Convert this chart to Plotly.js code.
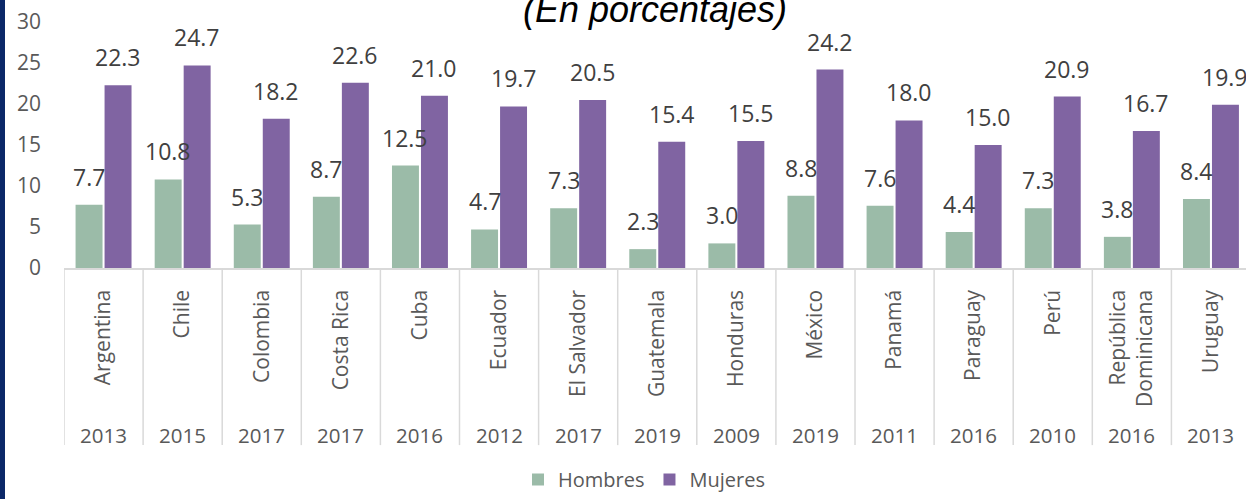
<!DOCTYPE html>
<html>
<head>
<meta charset="utf-8">
<script src="https://cdn.plot.ly/plotly-3.0.1.min.js"></script>
<style>
  html, body { margin: 0; padding: 0; background: #ffffff; }
  #chart { width: 1246px; height: 499px; }
  #strip { position: absolute; left: 0; top: 0; width: 5px; height: 499px; background: #0b2868; z-index: 10; }
</style>
</head>
<body>
<div id="strip"></div>
<div id="chart"></div>
<script>
const countries = ["Argentina", "Chile", "Colombia", "Costa Rica", "Cuba", "Ecuador", "El Salvador",
  "Guatemala", "Honduras", "México", "Panamá", "Paraguay", "Perú", "República<br>Dominicana", "Uruguay"];
const years = ["2013", "2015", "2017", "2017", "2016", "2012", "2017", "2019", "2009", "2019", "2011", "2016", "2010", "2016", "2013"];
const hombres = [7.7, 10.8, 5.3, 8.7, 12.5, 4.7, 7.3, 2.3, 3.0, 8.8, 7.6, 4.4, 7.3, 3.8, 8.4];
const mujeres = [22.3, 24.7, 18.2, 22.6, 21.0, 19.7, 20.5, 15.4, 15.5, 24.2, 18.0, 15.0, 20.9, 16.7, 19.9];
const seriesNames = ["Hombres", "Mujeres"];
const colors = ["#9bbba8", "#8064a2"];

const FONT = "Open Sans, Noto Sans, sans-serif";
const axisGray = "#595959";
const lineGray = "#d9d9d9";

const traces = [
  { type: "bar", name: seriesNames[0], x: countries, y: hombres, marker: { color: colors[0] }, hoverinfo: "skip" },
  { type: "bar", name: seriesNames[1], x: countries, y: mujeres, marker: { color: colors[1] }, hoverinfo: "skip" }
];

const annotations = [];
const labelFont = { family: FONT, size: 23, color: "#404040" };
countries.forEach((c, i) => {
  annotations.push({ x: c, y: hombres[i], xref: "x", yref: "y", text: hombres[i].toFixed(1),
    showarrow: false, xshift: -14.5, yshift: 10, yanchor: "bottom", font: labelFont });
  annotations.push({ x: c, y: mujeres[i], xref: "x", yref: "y", text: mujeres[i].toFixed(1),
    showarrow: false, xshift: 14.5, yshift: 10, yanchor: "bottom", font: labelFont });
  annotations.push({ x: c, y: -0.68, xref: "x", yref: "paper", text: years[i],
    showarrow: false, yanchor: "middle", font: { family: FONT, size: 20.5, color: axisGray } });
});

const shapes = [];
for (let i = 0; i <= countries.length; i++) {
  shapes.push({ type: "line", xref: "x", yref: "paper", x0: i - 0.5, x1: i - 0.5, y0: 0, y1: -0.72,
    line: { color: lineGray, width: 1.5 } });
}

const layout = {
  width: 1246, height: 499,
  margin: { l: 64, r: 0, t: 22, b: 227 },
  paper_bgcolor: "#ffffff", plot_bgcolor: "#ffffff",
  barmode: "group", bargap: 0.267, bargroupgap: 0.07,
  title: { text: "(En porcentajes)", x: 0.5, xref: "paper", xanchor: "center",
    y: 0.982, yref: "container", yanchor: "middle",
    font: { family: "Liberation Sans, Arial, sans-serif", size: 36, color: "#000000", style: "italic" } },
  xaxis: { type: "category", range: [-0.5, 14.443], showgrid: false, zeroline: false,
    showline: true, linecolor: lineGray, linewidth: 1.5, ticks: "", tickangle: -90,
    ticklabelstandoff: 12,
    tickfont: { family: FONT, size: 21, color: axisGray }, fixedrange: true },
  yaxis: { range: [0, 30], dtick: 5, showgrid: false, zeroline: false, showline: false,
    ticks: "", ticklabelstandoff: 22,
    tickfont: { family: FONT, size: 21, color: axisGray }, fixedrange: true },
  showlegend: true,
  legend: { orientation: "h", x: 0.4907, xanchor: "center", y: -0.86, yanchor: "middle",
    font: { family: FONT, size: 20, color: axisGray }, itemwidth: 30, traceorder: "normal" },
  annotations: annotations,
  shapes: shapes
};

Plotly.newPlot("chart", traces, layout, { staticPlot: true, displayModeBar: false });
</script>
</body>
</html>
